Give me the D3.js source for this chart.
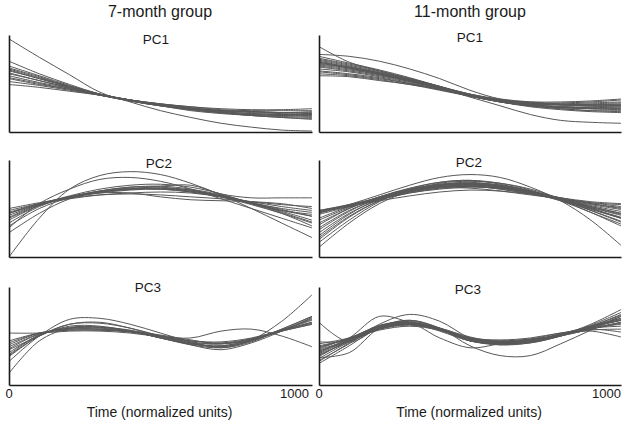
<!DOCTYPE html>
<html>
<head>
<meta charset="utf-8">
<script src="https://cdn.jsdelivr.net/npm/d3@7"></script>
<style>
  html, body { margin: 0; padding: 0; background: #fff; }
  svg { display: block; font-family: Arial, "Liberation Sans", sans-serif; }
</style>
</head>
<body>
<svg id="chart" width="632" height="427"></svg>
<script>
// ---------------- data ----------------
const times = [0, 100, 200, 300, 400, 500, 600, 700, 800, 900, 1000];
const groupTitles = ["7-month group", "11-month group"];
const componentLabels = ["PC1", "PC2", "PC3"];
const xTickLabels = [0, 1000];
const xAxisTitle = "Time (normalized units)";

// Curve values sampled at `times` (arbitrary units, 0 = bottom of panel, 100 = top)
const pc1Month7 = [
  [96, 77, 59, 41, 31, 22, 15, 9, 5, 2, 1],
  [73, 60, 49, 39, 32, 27, 23, 20, 18, 17, 16],
  [68, 58, 48, 39, 33, 28, 24, 21, 19, 18, 18],
  [66, 57, 47, 39, 33, 28, 23, 20, 17, 16, 15],
  [64, 55, 47, 39, 33, 29, 25, 22, 21, 20, 20],
  [63, 55, 46, 38, 32, 27, 23, 20, 18, 17, 17],
  [61, 53, 46, 39, 33, 28, 25, 22, 21, 20, 21],
  [60, 53, 45, 38, 32, 27, 22, 19, 17, 15, 14],
  [58, 51, 45, 38, 33, 29, 26, 23, 22, 22, 22],
  [56, 50, 44, 38, 33, 28, 24, 21, 19, 18, 19],
  [55, 49, 44, 38, 32, 28, 24, 22, 21, 20, 19],
  [49, 46, 42, 38, 33, 29, 26, 24, 23, 23, 24],
  [52, 48, 43, 38, 33, 28, 24, 20, 17, 15, 13],
  [65, 56, 47, 39, 32, 27, 24, 22, 20, 19, 18]
];
const pc1Month11 = [
  [88, 72, 63, 55, 47, 39, 33, 29, 28, 27, 27],
  [80, 78, 73, 65, 55, 43, 34, 30, 28, 27, 27],
  [78, 71, 64, 56, 47, 38, 31, 27, 25, 24, 24],
  [76, 70, 63, 55, 47, 38, 32, 29, 28, 28, 29],
  [75, 69, 62, 55, 47, 39, 33, 30, 29, 30, 31],
  [74, 68, 61, 54, 46, 38, 32, 28, 26, 24, 23],
  [73, 67, 61, 54, 46, 38, 33, 30, 30, 31, 33],
  [72, 67, 61, 54, 46, 38, 32, 28, 26, 25, 25],
  [71, 66, 60, 53, 45, 37, 31, 27, 24, 22, 21],
  [70, 66, 60, 53, 45, 36, 27, 18, 12, 10, 9],
  [69, 65, 59, 53, 46, 38, 33, 31, 31, 32, 34],
  [68, 64, 59, 52, 45, 37, 31, 27, 25, 24, 24],
  [67, 63, 58, 52, 45, 38, 32, 28, 26, 26, 27],
  [65, 62, 57, 51, 44, 37, 32, 29, 28, 29, 30],
  [63, 60, 56, 50, 44, 37, 31, 27, 24, 22, 22],
  [60, 58, 54, 49, 44, 37, 32, 29, 28, 28, 28],
  [58, 57, 53, 49, 43, 37, 32, 28, 26, 25, 26],
  [72, 66, 60, 53, 46, 39, 34, 31, 29, 28, 28],
  [62, 59, 55, 50, 44, 37, 31, 26, 23, 21, 20]
];
const pc2Month7 = [
  [0, 40, 70, 84, 88, 85, 76, 64, 50, 35, 20],
  [30, 55, 70, 80, 82, 78, 70, 60, 50, 40, 30],
  [45, 55, 62, 67, 70, 73, 74, 65, 61, 61, 61],
  [25, 45, 60, 68, 72, 72, 69, 63, 56, 49, 42],
  [48, 55, 60, 64, 66, 67, 66, 62, 57, 52, 48],
  [45, 54, 61, 67, 70, 70, 67, 62, 55, 47, 38],
  [40, 53, 62, 68, 72, 73, 70, 64, 56, 46, 36],
  [50, 56, 61, 64, 65, 64, 62, 60, 57, 54, 52],
  [35, 52, 62, 68, 71, 71, 68, 62, 54, 45, 35],
  [43, 54, 62, 67, 70, 71, 69, 63, 56, 48, 44],
  [38, 53, 62, 66, 66, 62, 59, 58, 57, 55, 50],
  [46, 55, 61, 66, 69, 70, 68, 63, 56, 50, 46],
  [41, 54, 63, 70, 74, 75, 72, 65, 55, 45, 32],
  [32, 50, 61, 67, 70, 70, 67, 62, 55, 48, 42]
];
const pc2Month11 = [
  [10, 35, 55, 68, 76, 78, 76, 70, 60, 48, 36],
  [15, 38, 57, 70, 77, 79, 76, 69, 59, 46, 32],
  [20, 42, 58, 68, 74, 76, 74, 68, 60, 50, 40],
  [25, 45, 59, 68, 73, 75, 73, 67, 59, 50, 41],
  [30, 48, 60, 68, 72, 73, 71, 66, 59, 51, 44],
  [35, 50, 61, 68, 72, 74, 72, 67, 60, 52, 45],
  [40, 52, 62, 70, 75, 77, 74, 68, 59, 48, 37],
  [46, 53, 60, 67, 72, 74, 72, 67, 61, 55, 50],
  [48, 54, 60, 66, 70, 72, 71, 67, 61, 55, 51],
  [47, 53, 60, 68, 74, 76, 74, 68, 60, 50, 40],
  [46, 52, 59, 66, 71, 73, 71, 66, 60, 53, 47],
  [45, 54, 64, 74, 82, 85, 82, 72, 58, 38, 12],
  [28, 47, 61, 70, 74, 75, 72, 66, 58, 49, 40],
  [22, 44, 60, 69, 73, 73, 70, 65, 60, 56, 54],
  [48, 53, 58, 63, 67, 69, 68, 65, 61, 57, 55],
  [38, 51, 62, 70, 74, 75, 72, 66, 59, 51, 43],
  [33, 50, 62, 71, 77, 79, 75, 68, 58, 46, 34],
  [44, 52, 61, 68, 72, 73, 70, 65, 59, 52, 45],
  [18, 41, 58, 69, 75, 76, 73, 67, 60, 54, 49],
  [47, 54, 61, 67, 71, 71, 68, 64, 60, 56, 52]
];
const pc3Month7 = [
  [53, 53, 55, 55, 53, 49, 45, 44, 48, 56, 63],
  [12, 45, 58, 59, 55, 48, 42, 40, 46, 57, 70],
  [36, 50, 62, 64, 58, 50, 48, 55, 57, 50, 39],
  [30, 50, 60, 60, 55, 48, 42, 39, 46, 65, 92],
  [24, 50, 67, 68, 62, 53, 44, 38, 44, 57, 70],
  [41, 53, 57, 57, 54, 49, 43, 42, 47, 56, 64],
  [45, 53, 56, 56, 54, 50, 45, 43, 47, 55, 62],
  [37, 52, 58, 58, 55, 48, 41, 38, 45, 56, 67],
  [33, 51, 59, 59, 55, 48, 42, 40, 46, 56, 66],
  [39, 52, 57, 57, 55, 50, 44, 42, 47, 55, 62],
  [29, 50, 62, 63, 58, 50, 41, 36, 43, 55, 69],
  [43, 53, 56, 56, 55, 51, 46, 42, 46, 55, 64],
  [31, 51, 58, 59, 56, 50, 43, 39, 45, 56, 68]
];
const pc3Month11 = [
  [64, 44, 58, 62, 56, 46, 43, 45, 51, 59, 67],
  [44, 45, 57, 62, 57, 47, 43, 44, 50, 57, 63],
  [22, 40, 59, 65, 58, 46, 41, 43, 50, 61, 74],
  [25, 42, 60, 64, 57, 45, 42, 44, 51, 60, 71],
  [28, 33, 58, 66, 58, 47, 43, 45, 51, 59, 70],
  [30, 45, 58, 62, 57, 47, 44, 46, 51, 58, 64],
  [33, 47, 60, 63, 56, 45, 42, 45, 52, 60, 68],
  [36, 46, 58, 62, 56, 46, 43, 45, 51, 59, 66],
  [38, 48, 60, 63, 58, 48, 44, 46, 51, 58, 62],
  [40, 47, 57, 61, 56, 47, 44, 46, 52, 58, 60],
  [34, 48, 70, 64, 55, 45, 42, 45, 52, 60, 66],
  [32, 46, 60, 66, 58, 40, 30, 30, 42, 56, 70],
  [27, 44, 58, 62, 57, 48, 45, 47, 51, 56, 57],
  [37, 48, 59, 63, 56, 45, 41, 44, 50, 59, 68],
  [24, 43, 62, 72, 65, 48, 42, 43, 50, 60, 72],
  [42, 48, 58, 62, 57, 47, 45, 47, 53, 57, 54],
  [35, 45, 59, 64, 58, 49, 44, 45, 51, 59, 66],
  [29, 46, 61, 64, 57, 47, 43, 45, 51, 62, 77],
  [39, 47, 56, 60, 56, 48, 46, 48, 53, 55, 49],
  [31, 44, 57, 63, 48, 38, 42, 45, 50, 57, 64]
];

// ---------------- layout ----------------
const panelData = [
  [pc1Month7, pc1Month11],
  [pc2Month7, pc2Month11],
  [pc3Month7, pc3Month11]
];
const colX = [[9, 312], [319, 621]];
const rowY = [[35, 132], [160, 257], [287, 385]];
const labelPos = [
  [{x: 156, y: 44}, {x: 470, y: 42}],
  [{x: 159, y: 168}, {x: 469, y: 167}],
  [{x: 148, y: 292}, {x: 468, y: 294}]
];
const titleX = [160, 470];

const svg = d3.select("#chart");
const ink = "#1a1a1a";

// group titles
svg.selectAll("text.gtitle").data(groupTitles).join("text")
  .attr("class", "gtitle")
  .attr("x", (d, i) => titleX[i]).attr("y", 17)
  .attr("text-anchor", "middle")
  .attr("font-size", 16).attr("fill", ink)
  .text(d => d);

rowY.forEach((ry, r) => {
  colX.forEach((cx, c) => {
    const x = d3.scaleLinear().domain([0, 1000]).range(cx);
    const y = d3.scaleLinear().domain([0, 100]).range([ry[1], ry[0]]);
    const g = svg.append("g");
    const line = d3.line()
      .x((d, i) => x(times[i]))
      .y(d => y(d))
      .curve(d3.curveCatmullRom.alpha(0.5));

    g.append("g").selectAll("path").data(panelData[r][c]).join("path")
      .attr("d", line)
      .attr("fill", "none")
      .attr("stroke", "#585858")
      .attr("stroke-width", 1);

    // axes
    g.append("g").attr("transform", `translate(0,${ry[1]})`)
      .call(d3.axisBottom(x).tickValues([]).tickSizeOuter(0))
      .call(a => a.select(".domain").attr("stroke", ink).attr("stroke-width", 1.6));
    g.append("g").attr("transform", `translate(${cx[0]},0)`)
      .call(d3.axisLeft(y).tickValues([]).tickSizeOuter(0))
      .call(a => a.select(".domain").attr("stroke", ink).attr("stroke-width", 1.6));

    // panel label
    g.append("text")
      .attr("x", labelPos[r][c].x).attr("y", labelPos[r][c].y)
      .attr("text-anchor", "middle")
      .attr("font-size", 13.5).attr("fill", ink)
      .text(componentLabels[r]);

    if (r === rowY.length - 1) {
      g.selectAll("text.tick").data(xTickLabels).join("text")
        .attr("class", "tick")
        .attr("x", d => d === 0 ? x(d) : x(d) - (c === 0 ? 3 : 0))
        .attr("y", 398)
        .attr("text-anchor", d => d === 0 ? "middle" : "end")
        .attr("font-size", 13).attr("fill", ink)
        .text(d => d);
      g.append("text")
        .attr("x", (cx[0] + cx[1]) / 2 - 1).attr("y", 417)
        .attr("text-anchor", "middle")
        .attr("font-size", 14).attr("fill", ink)
        .text(xAxisTitle);
    }
  });
});
</script>
</body>
</html>
